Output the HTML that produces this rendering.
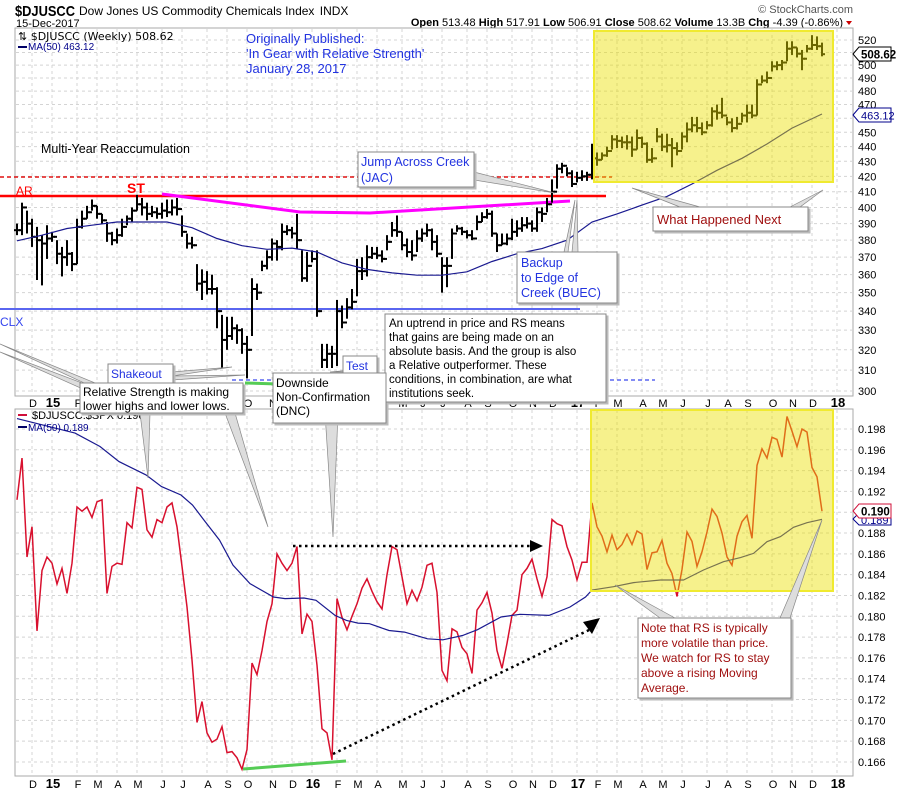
<!DOCTYPE html>
<html><head><meta charset="utf-8"><style>
html,body{margin:0;padding:0;background:#fff;}
svg{display:block;font-family:"Liberation Sans",sans-serif;}
</style></head><body>
<svg id="chart" width="900" height="792" viewBox="0 0 900 792" xmlns="http://www.w3.org/2000/svg">
<rect x="0" y="0" width="900" height="792" fill="#fff"/>
<g id="grid"></g>
<g>
<text x="15" y="16" font-size="15" font-weight="bold" textLength="60" lengthAdjust="spacingAndGlyphs">$DJUSCC</text>
<text x="79" y="15" font-size="12">Dow Jones US Commodity Chemicals Index <tspan dx="2">INDX</tspan></text>
<text x="16" y="27" font-size="11">15-Dec-2017</text>
<text x="853" y="13" font-size="11" fill="#555" text-anchor="end">© StockCharts.com</text>
<text x="843" y="26" font-size="11" text-anchor="end"><tspan font-weight="bold">Open</tspan> 513.48 <tspan font-weight="bold">High</tspan> 517.91 <tspan font-weight="bold">Low</tspan> 506.91 <tspan font-weight="bold">Close</tspan> 508.62 <tspan font-weight="bold">Volume</tspan> 13.3B <tspan font-weight="bold">Chg</tspan> -4.39 (-0.86%)</text>
<path d="M846 21 L852 21 L849 25 Z" fill="#c00"/>
</g>
<rect x="15" y="28" width="838" height="368" fill="none" stroke="#aaa"/>
<rect x="15" y="409" width="838" height="367" fill="none" stroke="#aaa"/>
<g id="annot-under">
<line x1="0" y1="177" x2="612" y2="177" stroke="#e01010" stroke-width="1.5" stroke-dasharray="4,3"/>
<line x1="0" y1="196" x2="606" y2="196" stroke="#f00" stroke-width="2.5"/>
<line x1="0" y1="309" x2="580" y2="309" stroke="#5a66f0" stroke-width="2"/>
<line x1="232" y1="380" x2="655" y2="380" stroke="#5a66f0" stroke-width="1.5" stroke-dasharray="4,3"/>
<polyline points="162,194 300,212 370,213 570,201" fill="none" stroke="#f0f" stroke-width="3"/>
<line x1="245" y1="383" x2="278" y2="384" stroke="#5c5" stroke-width="3"/>
</g>
<g id="bars"></g>
<g id="rsg"></g>
<rect x="594" y="31" width="239" height="151" fill="#ece000" fill-opacity="0.45" stroke="#f0ea30" stroke-width="2"/>
<rect x="591" y="410" width="242" height="181" fill="#ece000" fill-opacity="0.45" stroke="#f0ea30" stroke-width="2"/>
<g id="axes"></g>
<g>
<text x="18" y="40" font-size="11" font-family="DejaVu Sans, sans-serif">⇅ $DJUSCC (Weekly) 508.62</text>
<line x1="18" y1="47" x2="27" y2="47" stroke="#006" stroke-width="2"/>
<text x="28" y="50" font-size="10" fill="#00008b">MA(50) 463.12</text>
<line x1="18" y1="415" x2="27" y2="415" stroke="#d0103a" stroke-width="2"/>
<text x="32" y="419" font-size="11">$DJUSCC:$SPX 0.190</text>
<line x1="18" y1="427" x2="27" y2="427" stroke="#006" stroke-width="2"/>
<text x="28" y="431" font-size="10" fill="#00008b">MA(50) 0.189</text>
</g>
<g>
<text font-size="13" fill="#2233e0"><tspan x="246" y="43">Originally Published:</tspan><tspan x="246" y="58">'In Gear with Relative Strength'</tspan><tspan x="246" y="73">January 28, 2017</tspan></text>
<text x="41" y="153" font-size="12.5">Multi-Year Reaccumulation</text>
<text x="16" y="195" font-size="12" fill="#f00">AR</text>
<text x="127" y="193" font-size="14" font-weight="bold" fill="#f00">ST</text>
<text x="0" y="326" font-size="12" fill="#3344ee">CLX</text>
</g>
<g id="callouts">
<g fill="#ddd" stroke="#888" stroke-width="0.7">
<polygon points="474,172 555,193 474,180"/>
<polygon points="680,207 632,188 700,207"/>
<polygon points="790,207 823,190 800,207"/>
<polygon points="572,252 577,200 578,252"/>
<polygon points="564,252 575,200 568,252"/>
<polygon points="172,372 232,367 172,376"/>
<polygon points="172,376 245,375 172,380"/>
<polygon points="375,368 330,372 375,372"/>
<polygon points="100,385 0,344 95,388"/>
<polygon points="90,386 0,352 85,390"/>
<polygon points="140,413 148,478 150,413"/>
<polygon points="225,413 268,527 235,413"/>
<polygon points="325,413 333,537 338,413"/>
<polygon points="660,618 615,585 675,618"/>
<polygon points="780,618 822,520 790,618"/>
</g>
<g fill="#fff" stroke="#888" stroke-width="1" style="filter:drop-shadow(2px 2px 0 #bbb)">
<rect x="358" y="152" width="116" height="35"/>
<rect x="653" y="207" width="155" height="24"/>
<rect x="517" y="252" width="100" height="51"/>
<rect x="385" y="314" width="221" height="88"/>
<rect x="108" y="364" width="65" height="19"/>
<rect x="343" y="356" width="34" height="18"/>
<rect x="273" y="373" width="113" height="50"/>
<rect x="80" y="383" width="163" height="30"/>
<rect x="638" y="618" width="153" height="80"/>
</g>
<text font-size="12.5" fill="#2233e0"><tspan x="361" y="166">Jump Across Creek</tspan><tspan x="361" y="182">(JAC)</tspan></text>
<text x="657" y="224" font-size="13" fill="#a01010">What Happened Next</text>
<text font-size="12.5" fill="#2233e0"><tspan x="521" y="267">Backup</tspan><tspan x="521" y="282">to Edge of</tspan><tspan x="521" y="297">Creek (BUEC)</tspan></text>
<text font-size="11.5"><tspan x="389" y="327">An uptrend in price and RS means</tspan><tspan x="389" y="341">that gains are being made on an</tspan><tspan x="389" y="355">absolute basis. And the group is also</tspan><tspan x="389" y="369">a Relative outperformer. These</tspan><tspan x="389" y="383">conditions, in combination, are what</tspan><tspan x="389" y="397">institutions seek.</tspan></text>
<text x="111" y="378" font-size="12" fill="#2233e0">Shakeout</text>
<text x="346" y="370" font-size="12" fill="#2233e0">Test</text>
<text font-size="12"><tspan x="276" y="387">Downside</tspan><tspan x="276" y="401">Non-Confirmation</tspan><tspan x="276" y="415">(DNC)</tspan></text>
<text font-size="12"><tspan x="83" y="396">Relative Strength is making</tspan><tspan x="83" y="410">lower highs and lower lows.</tspan></text>
<text font-size="12" fill="#a01010"><tspan x="641" y="632">Note that RS is typically</tspan><tspan x="641" y="647">more volatile than price.</tspan><tspan x="641" y="662">We watch for RS to stay</tspan><tspan x="641" y="677">above a rising Moving</tspan><tspan x="641" y="692">Average.</tspan></text>
</g>
<g>
<line x1="293" y1="546" x2="532" y2="546" stroke="#000" stroke-width="2.5" stroke-dasharray="2.5,3.5"/>
<polygon points="530,540 543,546 530,552" fill="#000"/>
<line x1="333" y1="754" x2="589" y2="630" stroke="#000" stroke-width="2.5" stroke-dasharray="2.5,3.5"/>
<polygon points="583,622 600,618 592,634" fill="#000"/>
<line x1="243" y1="769" x2="346" y2="761" stroke="#5c5" stroke-width="3"/>
</g>
<g>
<polygon points="853,54 859,47 891,47 891,61 859,61" fill="#fff" stroke="#000"/>
<text x="861" y="58.5" font-size="11.5" font-weight="bold">508.62</text>
<polygon points="853,115 859,108 891,108 891,122 859,122" fill="#fff" stroke="#00008b"/>
<text x="861" y="119.5" font-size="11" fill="#00008b">463.12</text>
<polygon points="853,519 859,513 891,513 891,525 859,525" fill="#fff" stroke="#00008b"/>
<text x="861" y="524" font-size="11" fill="#00008b">0.189</text>
<polygon points="853,511 859,504 891,504 891,518 859,518" fill="#fff" stroke="#d0103a"/>
<text x="861" y="515.5" font-size="11.5" font-weight="bold">0.190</text>
</g>
</svg>
<script>
const hi=[390,403,398,393,388,383,389,385,380,376,380,373,393,398,401,405,401,396,391,385,387,393,395,400,408,406,403,401,400,403,405,405,406,395,384,382,366,363,362,360,353,338,337,337,333,331,327,358,355,368,374,381,380,390,389,388,396,374,373,374,374,323,323,322,346,343,347,352,369,370,377,376,376,374,383,391,395,385,381,380,386,387,390,387,383,370,370,387,389,388,386,386,395,397,399,398,384,384,384,393,392,394,394,392,400,400,406,418,428,429,426,424,423,424,423,442,436,436,440,448,448,447,448,447,452,447,443,439,453,449,449,446,443,450,457,461,461,457,458,468,470,475,461,460,461,464,470,470,489,492,495,503,503,504,519,519,514,512,516,524,523,517.91];
const lo=[383,383,384,376,357,354,369,379,366,359,365,362,366,387,393,398,393,390,379,377,378,382,389,391,398,395,392,394,393,393,394,395,395,382,375,375,351,346,349,349,331,311,320,325,323,318,306,327,346,362,363,368,368,374,383,381,375,356,356,367,337,311,311,311,312,331,336,341,348,357,359,369,369,367,374,382,382,374,370,368,373,379,382,374,370,350,353,369,385,383,381,380,386,391,393,382,373,377,377,380,382,385,387,385,385,391,397,403,412,422,420,413,416,417,417,418,427,431,433,438,439,439,438,433,438,439,429,429,443,437,436,426,434,438,443,450,450,448,452,454,459,460,455,450,452,457,457,460,462,486,486,495,496,496,503,508,506,496,510,512,512,506.91];
const cl=[386,400,390,382,380,378,381,382,372,370,372,366,388,393,397,401,396,392,384,380,383,388,393,398,402,400,396,397,396,398,397,400,399,385,378,377,355,356,352,352,340,325,327,331,330,323,320,352,350,365,370,378,376,385,386,384,380,358,365,369,340,315,318,318,340,334,342,345,362,362,370,372,371,369,379,386,385,377,373,371,381,384,386,379,372,365,365,384,387,385,383,381,391,394,396,384,377,378,381,385,387,389,390,387,397,396,402,410,425,427,422,415,419,420,421,432,431,434,437,445,444,443,443,438,446,442,431,432,447,440,441,439,437,447,452,455,453,450,455,465,464,462,457,453,456,462,464,462,485,488,490,499,500,502,513,514,509,505,513,516,515,508.62];
const maIdx=[0,5,10,15,20,25,30,35,40,45,50,55,60,65,70,75,80,85,90,95,100,105,110,115,120,125,130,135,140,145,150,155,161];
const maVal=[379.6,383,387,389,391,391,391,387.5,381,376.7,374.6,375.3,373,366.7,363,361,359.7,359.7,361.6,367.5,372,375,380,391,396,401.5,407,415,424,432,441.8,453,463.12];
const rs=[.1912,.1952,.1857,.1886,.1786,.1844,.1857,.1851,.1831,.1846,.1822,.1851,.1905,.1901,.1905,.1895,.1910,.1912,.1822,.1848,.1851,.1850,.1890,.1885,.1924,.1922,.1883,.1876,.1893,.1890,.1905,.1909,.1886,.1848,.1809,.1758,.1698,.1718,.1688,.1679,.1682,.1694,.1669,.1670,.1664,.1653,.1672,.1755,.1744,.1767,.1795,.1812,.1860,.1851,.1844,.1851,.1867,.1783,.1802,.1795,.1753,.1692,.1688,.1662,.1817,.1799,.1787,.1800,.1812,.1827,.1836,.1824,.1814,.1807,.1840,.1867,.1864,.1838,.1812,.1825,.1815,.1828,.1849,.1851,.1823,.1748,.1738,.1788,.1785,.1770,.1764,.1745,.1806,.1813,.1823,.1803,.1767,.1750,.1774,.1801,.1806,.1840,.1846,.1855,.1836,.1819,.1838,.1893,.1889,.1887,.1867,.1854,.1835,.1852,.1852,.1909,.1886,.1877,.1862,.1878,.1864,.1869,.1879,.1869,.1882,.1879,.1845,.1861,.1862,.1873,.1851,.1841,.1819,.1845,.1881,.1872,.1848,.1862,.1881,.1903,.1896,.1880,.1857,.1849,.1877,.1891,.1897,.1875,.1945,.1961,.1952,.1972,.1970,.1953,.1992,.1978,.1963,.1980,.1977,.1943,.1934,.1901];
const rsMaIdx=[0,11.6,16.6,20.4,25.8,28.9,32.8,35.1,37.4,40.5,43.2,46.6,51.3,53.6,57.4,59.8,63.6,65.9,68.2,70.5,74.4,77.5,82.1,85.2,89.1,92.1,96.8,100.6,106.4,110.6,113.7,115,119.3,123.3,128.7,133.3,137.3,141.3,144.7,147.3,150,152.7,155.3,158,161];
const rsMaVal=[.1990,.19761,.19632,.19487,.19359,.19246,.19166,.19070,.18925,.18732,.18491,.18314,.18186,.18170,.18176,.18154,.18009,.17961,.17935,.17929,.17864,.17848,.17784,.17774,.17816,.17871,.17993,.18019,.18009,.18089,.18186,.18253,.18285,.18324,.18349,.18349,.18445,.18525,.18564,.18605,.18717,.18766,.18855,.18900,.18932];
const priceTicks=[300,310,320,330,340,350,360,370,380,390,400,410,420,430,440,450,460,470,480,490,500,510,520];
const rsTicks=[.166,.168,.170,.172,.174,.176,.178,.180,.182,.184,.186,.188,.190,.192,.194,.196,.198];
const lastDate=new Date(Date.UTC(2017,11,15));

const NS='http://www.w3.org/2000/svg';
function px(i){return 17+5*i;}
function py(p){return 4030-638*Math.log(p);}
function ry(v){return 429+(0.198-v)*10406;}
function mk(tag,attrs,parent){const e=document.createElementNS(NS,tag);for(const k in attrs)e.setAttribute(k,attrs[k]);parent.appendChild(e);return e;}
const grid=document.getElementById('grid'),bars=document.getElementById('bars'),rsg=document.getElementById('rsg'),axes=document.getElementById('axes');
const N=cl.length;
const mNames=['J','F','M','A','M','J','J','A','S','O','N','D'];
let prevM=-1;
for(let i=0;i<N+3;i++){
  const d=new Date(lastDate.getTime()-(N-1-i)*7*86400000);
  const m=d.getUTCMonth();
  if(m!==prevM&&i>0){
    const x=px(i);
    const lab=m===0?String(d.getUTCFullYear()).slice(2):mNames[m];
    const vl=mk('line',{x1:x,y1:29,x2:x,y2:395,stroke:'#d4d4d4','stroke-dasharray':'3,3'},grid);
    
    
    const vl2=mk('line',{x1:x,y1:410,x2:x,y2:775,stroke:'#d4d4d4','stroke-dasharray':'3,3'},grid);
    
    
    for(const yy of [407,788]){
      const t=mk('text',{x:x+1,y:yy,'font-size':m===0?13:11,'font-weight':m===0?'bold':'normal','text-anchor':'middle'},axes);
      t.textContent=lab;
      
      
    }
  }
  prevM=m;
}
priceTicks.forEach(p=>{
  const y=py(p);
  const g=mk('line',{x1:16,y1:y,x2:852,y2:y,stroke:'#d4d4d4','stroke-dasharray':'3,3'},grid);
  
  
  const t=mk('text',{x:858,y:y+4,'font-size':11},axes);
  t.textContent=p;
  
  
});
rsTicks.forEach(v=>{
  const y=ry(v);
  const g=mk('line',{x1:16,y1:y,x2:852,y2:y,stroke:'#d4d4d4','stroke-dasharray':'3,3'},grid);
  
  
  const t=mk('text',{x:858,y:y+4,'font-size':11},axes);
  t.textContent=v.toFixed(3);
  
  
});
for(let i=0;i<N;i++){
  const x=px(i);
  const g=mk('g',{stroke:'#000','stroke-width':2},bars);
  
  
  mk('line',{x1:x,y1:py(hi[i]),x2:x,y2:py(lo[i])},g);
  mk('line',{x1:x,y1:py(cl[i]),x2:x+3,y2:py(cl[i])},g);
  const o=i>0?cl[i-1]:cl[i];
  mk('line',{x1:x-3,y1:py(o),x2:x,y2:py(o)},g);
}
const maPts=maIdx.map((k,j)=>px(k)+','+py(maVal[j]).toFixed(1)).join(' ');
const ma=mk('polyline',{points:maPts,fill:'none',stroke:'#1a1a90','stroke-width':1.2},bars);


const rsPts=rs.map((v,i)=>px(i)+','+ry(v).toFixed(1)).join(' ');
const rl=mk('polyline',{points:rsPts,fill:'none',stroke:'#d8102e','stroke-width':1.5},rsg);


const rmPts=rsMaIdx.map((k,j)=>px(k)+','+ry(rsMaVal[j]).toFixed(1)).join(' ');
const rm=mk('polyline',{points:rmPts,fill:'none',stroke:'#1a1a90','stroke-width':1.2},rsg);


</script>
</body></html>
